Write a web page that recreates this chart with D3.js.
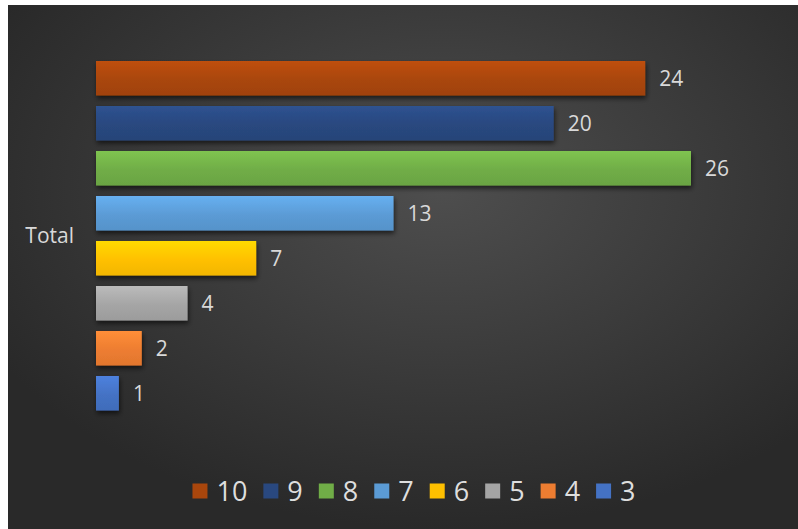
<!doctype html>
<html>
  <head>
    <meta charset="utf-8">
    <script src="https://cdn.jsdelivr.net/npm/d3@7"></script>
    <style>
    body {
      margin: 0;
      background: #ffffff;
    }

    .chart {
      font-family: 'Open Sans', sans-serif;
      display: block;
    }

    .value-label {
      font-size: 21px;
      fill: #d9d9d9;
    }

    #y-axis .tick text {
      font-size: 21px;
      fill: #d9d9d9;
      font-family: 'Open Sans', sans-serif;
    }

    .legend-label {
      font-size: 27px;
      fill: #dedede;
    }
    </style>
  </head>

  <body>
    <svg class="chart"></svg>

  <script>

    const categories = ["Total"]
    const series = ["10", "9", "8", "7", "6", "5", "4", "3"]
    const values = [24, 20, 26, 13, 7, 4, 2, 1]

    const darkOrange = "#a9460c",
            navyBlue = "#29487f",
               green = "#70ad47",
           lightBlue = "#5b9bd5",
              yellow = "#ffc000",
                grey = "#a5a5a5",
              orange = "#ed7d31",
                blue = "#4472c4"

    const colors = [darkOrange, navyBlue, green, lightBlue, yellow, grey, orange, blue]

    const width = 798,
          height = 529

    const plot = { left: 96, right: 691, top: 55.75, bottom: 415.75 }

    let svg = d3.select(".chart")
                .attr("width", width)
                .attr("height", height)

    let defs = svg.append("defs")

    let bg = defs.append("radialGradient")
      .attr("id", "bg")
      .attr("cx", "55%")
      .attr("cy", "35%")
      .attr("r", "65%")
    bg.append("stop").attr("offset", "0%").attr("stop-color", "#4e4e4e")
    bg.append("stop").attr("offset", "100%").attr("stop-color", "#292929")

    let shadow = defs.append("filter")
      .attr("id", "shadow")
      .attr("x", "-10%").attr("y", "-30%")
      .attr("width", "130%").attr("height", "180%")
    shadow.append("feDropShadow")
      .attr("dx", 1)
      .attr("dy", 3)
      .attr("stdDeviation", 2.5)
      .attr("flood-color", "#000")
      .attr("flood-opacity", 0.6)

    colors.forEach(function(c, i) {
      let g = defs.append("linearGradient")
        .attr("id", "bar" + i)
        .attr("x1", 0).attr("y1", 0)
        .attr("x2", 0).attr("y2", 1)
      g.append("stop").attr("offset", "0%").attr("stop-color", d3.color(c).brighter(0.35))
      g.append("stop").attr("offset", "55%").attr("stop-color", c)
      g.append("stop").attr("offset", "100%").attr("stop-color", d3.color(c).darker(0.15))
    })

    // chart area (white strip left and top like the screenshot)
    svg.append("rect")
      .attr("x", 8)
      .attr("y", 5)
      .attr("width", width - 8)
      .attr("height", height - 5)
      .attr("fill", "url(#bg)")

    const xScale = d3.scaleLinear()
                     .domain([0, 26])
                     .range([plot.left, plot.right])

    const yCat = d3.scaleBand()
                   .domain(categories)
                   .range([plot.top, plot.bottom])

    const yScale = d3.scaleBand()
                     .domain(series)
                     .range([plot.top, plot.bottom])
                     .paddingInner(0.233)
                     .paddingOuter(0.1165)

    let chart = svg.append("g")

    chart.selectAll(".bar")
      .data(series)
      .enter().append("rect")
        .attr("class", "bar")
        .attr("x", xScale(0))
        .attr("y", (d) => yScale(d))
        .attr("width", (d, i) => xScale(values[i]) - xScale(0))
        .attr("height", yScale.bandwidth())
        .attr("fill", (d, i) => "url(#bar" + i + ")")
        .attr("filter", "url(#shadow)")

    chart.selectAll(".value-label")
      .data(series)
      .enter().append("text")
        .attr("class", "value-label")
        .attr("x", (d, i) => xScale(values[i]) + 14)
        .attr("y", (d) => yScale(d) + yScale.bandwidth() / 2)
        .attr("dy", "0.36em")
        .text((d, i) => values[i])

    const yAxis = d3.axisLeft(yCat)
                    .tickSize(0)
                    .tickPadding(22)

    svg.append("g")
      .attr("id", "y-axis")
      .attr("transform", "translate(" + plot.left + ",1)")
      .call(yAxis)
      .call(g => g.select(".domain").remove())

    // legend
    let legend = svg.append("g").attr("id", "legend")
    const box = 15, gap = 9, itemGap = 16, legendY = 491

    let items = legend.selectAll(".legend-item")
      .data(series)
      .enter().append("g")
        .attr("class", "legend-item")

    items.append("rect")
      .attr("width", box)
      .attr("height", box)
      .attr("y", legendY - box / 2)
      .attr("fill", (d, i) => colors[i])

    items.append("text")
      .attr("class", "legend-label")
      .attr("x", box + gap)
      .attr("y", legendY)
      .attr("dy", "0.36em")
      .text((d) => d)

    let offset = 0
    items.each(function() {
      let w = box + gap + d3.select(this).select("text").node().getComputedTextLength()
      d3.select(this).attr("transform", "translate(" + offset + ",0)")
      offset += w + itemGap
    })
    let legendWidth = offset - itemGap
    legend.attr("transform", "translate(" + (414 - legendWidth / 2) + ",0)")

  </script>

  </body>
</html>
